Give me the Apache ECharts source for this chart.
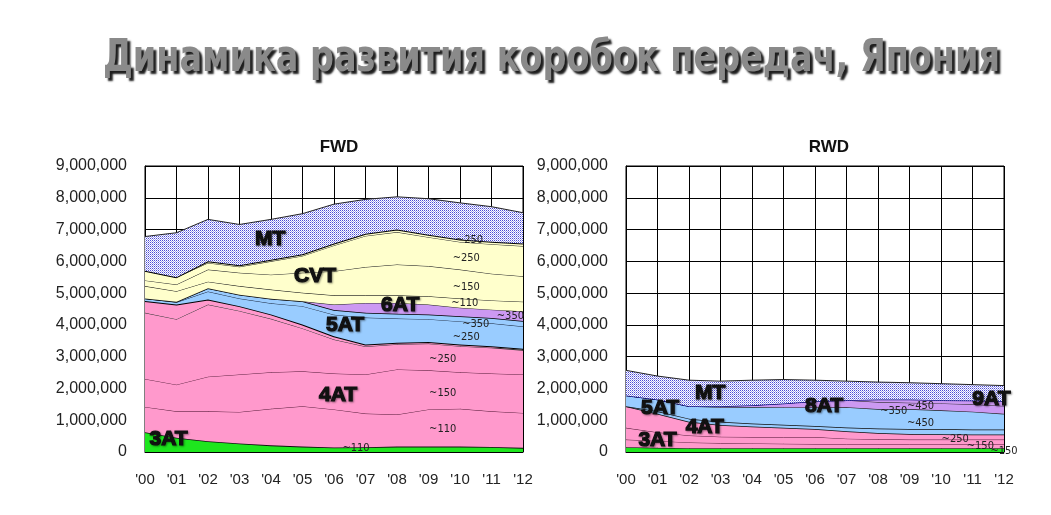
<!DOCTYPE html>
<html><head><meta charset="utf-8">
<script src="https://cdn.jsdelivr.net/npm/echarts@6/dist/echarts.min.js"></script>
<style>html,body{margin:0;padding:0;background:#fff}#c{width:1051px;height:515px}</style>
</head><body><div id="c"></div>
<script>
// ---- categories ----
const years = ["'00","'01","'02","'03","'04","'05","'06","'07","'08","'09","'10","'11","'12"];
const yMax = 9000000, yStep = 1000000;

// ---- FWD (millions of units, bottom to top) ----
const fwd3AT_110 = [0.62,0.45,0.34,0.27,0.21,0.17,0.14,0.15,0.17,0.17,0.17,0.16,0.13];
const fwd4AT_110 = [0.80,0.83,0.94,0.99,1.15,1.27,1.20,1.06,1.01,1.17,1.19,1.12,1.10];
const fwd4AT_150 = [0.88,0.84,1.09,1.18,1.15,1.10,1.13,1.23,1.42,1.23,1.15,1.19,1.21];
const fwd4AT_250 = [2.08,2.06,2.27,2.00,1.68,1.35,1.07,0.88,0.79,0.84,0.82,0.81,0.76];
const fwd4AT_350 = [0.37,0.46,0.16,0.15,0.14,0.12,0.10,0.06,0.05,0.05,0.05,0.05,0.05];
const fwd5AT_250 = [0.08,0.07,0.25,0.24,0.35,0.58,0.68,0.85,0.76,0.72,0.73,0.72,0.70];
const fwd5AT_350 = [0.00,0.02,0.10,0.12,0.14,0.15,0.15,0.15,0.15,0.15,0.16,0.17,0.17];
const fwd6AT_350 = [0.00,0.00,0.00,0.00,0.00,0.00,0.17,0.31,0.34,0.31,0.27,0.26,0.31];
const fwdCVT_110 = [0.39,0.33,0.21,0.27,0.29,0.27,0.29,0.24,0.24,0.26,0.29,0.29,0.30];
const fwdCVT_150 = [0.18,0.21,0.38,0.42,0.47,0.63,0.76,0.89,0.97,0.95,0.91,0.84,0.80];
const fwdCVT_250 = [0.30,0.23,0.21,0.19,0.42,0.53,0.81,0.98,1.02,0.91,0.87,0.93,0.95];
const fwdCVT_350 = [0.00,0.00,0.05,0.05,0.05,0.05,0.06,0.07,0.08,0.08,0.08,0.08,0.08];
const fwdMT      = [1.08,1.40,1.32,1.28,1.27,1.28,1.24,1.08,1.03,1.13,1.15,1.10,0.97];

// ---- RWD (millions of units, bottom to top) ----
const rwd3AT_110 = [0.15,0.13,0.12,0.12,0.12,0.12,0.12,0.12,0.12,0.12,0.12,0.12,0.12];
const rwd3AT_150 = [0.24,0.22,0.18,0.16,0.15,0.14,0.13,0.13,0.13,0.13,0.13,0.13,0.13];
const rwd4AT_250 = [0.37,0.27,0.22,0.20,0.20,0.21,0.22,0.17,0.15,0.14,0.14,0.14,0.14];
const rwd4AT_350 = [0.68,0.58,0.43,0.37,0.33,0.29,0.25,0.23,0.20,0.18,0.17,0.16,0.16];
const rwd5AT_350 = [0.00,0.08,0.10,0.10,0.10,0.10,0.10,0.12,0.14,0.15,0.16,0.16,0.16];
const rwd5AT_450 = [0.34,0.37,0.39,0.46,0.52,0.55,0.58,0.64,0.61,0.63,0.59,0.56,0.49];
const rwd8AT_350 = [0.00,0.00,0.00,0.03,0.05,0.12,0.20,0.22,0.22,0.20,0.22,0.23,0.25];
const rwd9AT_450 = [0.00,0.00,0.00,0.00,0.00,0.00,0.00,0.00,0.08,0.10,0.10,0.12,0.15];
const rwdMT      = [0.79,0.74,0.82,0.79,0.79,0.75,0.66,0.60,0.55,0.53,0.52,0.50,0.49];

// ---- annotation texts (chart-space anchors: category index, millions) ----
const mainTitle = 'Динамика развития коробок передач, Япония';
const fwdNotes = [
  ['MT',3.97,6.69,1],['CVT',5.4,5.52,1],['6AT',8.1,4.61,1],['5AT',6.35,3.98,1],['4AT',6.13,1.78,1],['3AT',0.75,0.39,1],
  ['~250',10.3,6.66,0],['~250',10.2,6.09,0],['~150',10.2,5.2,0],['~110',10.15,4.7,0],['~350',11.6,4.27,0],
  ['~350',10.5,4.03,0],['~250',10.2,3.63,0],['~250',9.45,2.93,0],['~150',9.45,1.84,0],['~110',9.45,0.71,0],['~110',6.7,0.12,0]
];
const rwdNotes = [
  ['MT',2.67,1.86,1],['5AT',1.08,1.37,1],['4AT',2.5,0.77,1],['3AT',1.0,0.36,1],['8AT',6.29,1.43,1],['9AT',11.6,1.65,1],
  ['~350',8.5,1.3,0],['~450',9.35,1.43,0],['~450',9.35,0.9,0],['~250',10.45,0.39,0],['~150',11.25,0.2,0],['~150',12.0,0.02,0]
];

// ---- styles ----
const GREEN='#1ee61e', PINK='#ff99cc', BLUE='#99ccff', PURPLE='#cc99f2', CREAM='#ffffcc';
const pc = document.createElement('canvas'); pc.width=2; pc.height=2;
const g2 = pc.getContext('2d');
g2.fillStyle='#ffffff'; g2.fillRect(0,0,2,2);
g2.fillStyle='#4a4ad6'; g2.fillRect(0,0,1,1);
g2.fillStyle='#a4a4ee'; g2.fillRect(1,1,1,1);
const DOTS = {image: pc, repeat: 'repeat'};

const fwdLayers = [
  [fwd3AT_110, GREEN, '#111', 1.6],
  [fwd4AT_110, PINK, '#5a1a3a', 1],
  [fwd4AT_150, PINK, '#5a1a3a', 1],
  [fwd4AT_250, PINK, '#333', 1],
  [fwd4AT_350, PINK, '#000', 2],
  [fwd5AT_250, BLUE, '#1a2a44', 1],
  [fwd5AT_350, BLUE, '#000', 1.5],
  [fwd6AT_350, PURPLE, '#222', 1],
  [fwdCVT_110, CREAM, '#111', 1],
  [fwdCVT_150, CREAM, '#222', 1],
  [fwdCVT_250, CREAM, '#222', 1],
  [fwdCVT_350, CREAM, '#000', 2],
  [fwdMT, DOTS, '#222', 1]
];
const rwdLayers = [
  [rwd3AT_110, GREEN, '#111', 1.2],
  [rwd3AT_150, PINK, '#5a1a3a', 1],
  [rwd4AT_250, PINK, '#5a1a3a', 1],
  [rwd4AT_350, PINK, '#111', 1.5],
  [rwd5AT_350, BLUE, '#111', 1.5],
  [rwd5AT_450, BLUE, '#222', 1.2],
  [rwd8AT_350, PURPLE, '#222', 1],
  [rwd9AT_450, PURPLE, '#101080', 1.5],
  [rwdMT, DOTS, '#222', 1]
];

function mkSeries(layers, gi) {
  return layers.map((l, k) => ({
    type: 'line', xAxisIndex: gi, yAxisIndex: gi, stack: 'S' + gi,
    data: l[0].map(v => Math.round(v * 1e6)),
    symbol: 'none', showSymbol: false, animation: false,
    lineStyle: {color: l[2], width: l[3]},
    areaStyle: {color: l[1], opacity: 1},
    z: 2 + k * 0.01
  }));
}

const gridDefs = [{left:145, top:166, width:378, height:286}, {left:626, top:166, width:378, height:286}];
const axisFont = 'Liberation Sans, Arial, sans-serif';

function mkX(gi){ return {
  type:'category', gridIndex:gi, data:years, boundaryGap:false,
  axisLine:{lineStyle:{color:'#000', width:1}},
  axisTick:{show:true, inside:true, length:4, lineStyle:{color:'#000'}},
  axisLabel:{color:'#222', fontSize:15, fontFamily:axisFont, margin:20},
  splitLine:{show:true, lineStyle:{color:'#000', width:1}}
};}
function mkY(gi){ return {
  type:'value', gridIndex:gi, min:0, max:yMax, interval:yStep,
  axisLine:{show:true, lineStyle:{color:'#000', width:1}},
  axisTick:{show:true, inside:true, length:4, lineStyle:{color:'#000'}},
  axisLabel:{color:'#222', fontSize:16, fontFamily:axisFont, margin:18,
    formatter: v => Number(v).toLocaleString('en-US')},
  splitLine:{show:true, lineStyle:{color:'#000', width:1}}
};}

const chart = echarts.init(document.getElementById('c'), null, {renderer:'canvas'});
chart.setOption({
  backgroundColor:'#fff',
  animation:false,
  title:[
    {text:'FWD', left:334, textAlign:'center', top:134, textStyle:{fontSize:17, fontWeight:'bold', fontFamily:axisFont, color:'#111'}},
    {text:'RWD', left:824, textAlign:'center', top:134, textStyle:{fontSize:17, fontWeight:'bold', fontFamily:axisFont, color:'#111'}}
  ],
  grid: gridDefs.map(g => Object.assign({show:true, borderColor:'#000', borderWidth:1, backgroundColor:'#fff'}, g)),
  xAxis:[mkX(0), mkX(1)],
  yAxis:[mkY(0), mkY(1)],
  series:[...mkSeries(fwdLayers,0), ...mkSeries(rwdLayers,1)]
});

function toPx(gi, xi, v) {
  const i0 = Math.floor(xi), i1 = Math.min(i0 + 1, years.length - 1), f = xi - i0;
  const p0 = chart.convertToPixel({xAxisIndex:gi, yAxisIndex:gi}, [i0, v * 1e6]);
  const p1 = chart.convertToPixel({xAxisIndex:gi, yAxisIndex:gi}, [i1, v * 1e6]);
  return [p0[0] + (p1[0] - p0[0]) * f, p0[1]];
}
function mkNotes(notes, gi) {
  return notes.map(n => {
    const p = toPx(gi, n[1], n[2]);
    const big = n[3] === 1;
    return {type:'text', x:p[0], y:p[1], z:100, silent:true,
      style: big ? {text:n[0], fontSize:21, fontWeight:'bold', fontFamily:axisFont, fill:'#111',
                    stroke:'#111', lineWidth:1.2, align:'center', verticalAlign:'middle',
                    textShadowColor:'rgba(0,0,0,0.35)', textShadowBlur:2, textShadowOffsetX:1, textShadowOffsetY:1}
                 : {text:n[0], fontSize:11, fontFamily:"'DejaVu Sans Condensed',sans-serif",
                    fill:'#222', align:'center', verticalAlign:'middle'}};
  });
}
// main title: condensed bold text, scaled horizontally to the reference's narrow face
const titleFont = "'DejaVu Sans Condensed','DejaVu Sans',sans-serif";
const tmp = document.createElement('canvas').getContext('2d');
tmp.font = 'bold 44px ' + titleFont;
const tw = tmp.measureText(mainTitle).width;
const targetW = 897;
const titleEl = {type:'text', x:103, y:38, z:100, silent:true, scaleX: targetW / tw, scaleY: 1,
  style:{text:mainTitle, fontSize:44, fontWeight:'bold', fontFamily:titleFont, fill:'#8a8a8a',
         align:'left', verticalAlign:'top',
         textShadowColor:'#1e1e1e', textShadowBlur:2, textShadowOffsetX:3, textShadowOffsetY:3}};
chart.setOption({graphic:[titleEl, ...mkNotes(fwdNotes,0), ...mkNotes(rwdNotes,1)]});
</script></body></html>
